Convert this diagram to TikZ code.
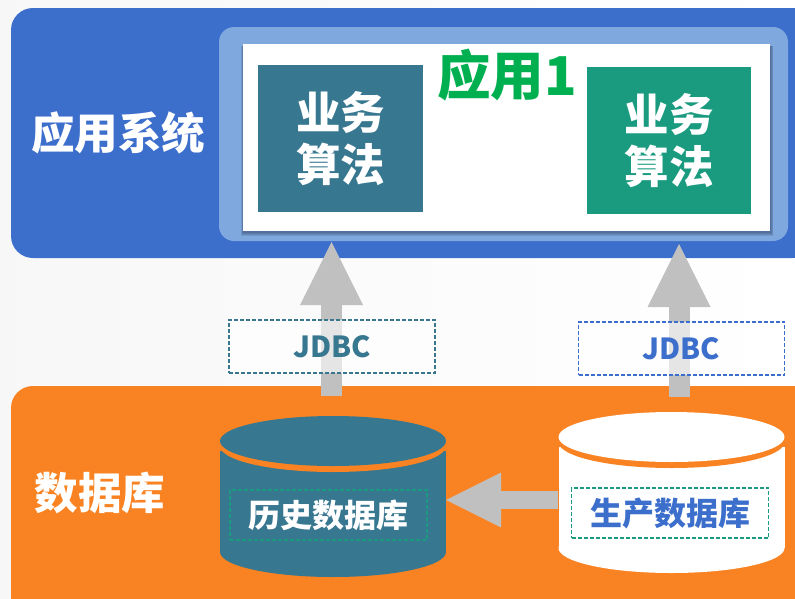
\documentclass[tikz,border=0pt]{standalone}
\usepackage{fontspec}
\setmainfont{Noto Sans CJK SC}
\usetikzlibrary{arrows.meta,calc}
\definecolor{sysblue}{HTML}{3C6ECC}
\definecolor{lightblue}{HTML}{7FA9DE}
\definecolor{dborange}{HTML}{F98322}
\definecolor{teal1}{HTML}{387790}
\definecolor{green1}{HTML}{1A9B80}
\definecolor{title1}{HTML}{00B050}
\definecolor{arrowgray}{HTML}{C0C0C0}
\definecolor{shadowc}{HTML}{203050}
\tikzset{
  x=1pt,y=-1pt,
  panel/.style={rounded corners=22pt,draw=none},
  algbox/.style={anchor=center,inner sep=0pt,minimum width=165pt,minimum height=147pt,text=white,font=\fontsize{44.5}{52}\selectfont\bfseries,align=center},
  paneltext/.style={text=white,font=\fontsize{43.5}{50}\selectfont\bfseries,inner sep=0pt},
  jdbcbox/.style={dashed,dash pattern=on 4pt off 2pt,line width=1.6pt,fill=white,fill opacity=.6,text opacity=1,minimum width=206pt,minimum height=53pt,inner sep=0pt,font=\fontsize{29}{32}\selectfont\bfseries},
  dbbox/.style={draw=green1,dash pattern=on 4pt off 2pt,line width=1.6pt,minimum width=197pt,minimum height=50pt,inner sep=0pt,font=\fontsize{32}{36}\selectfont\bfseries},
  bigarrow/.style={arrowgray,line width=21pt,-{Triangle[length=63pt,width=63pt,line width=0pt]}},
  sidearrow/.style={arrowgray,line width=18pt,-{Triangle[length=55pt,width=55pt,line width=0pt]}},
  cyl/.style={minimum width=226pt,minimum height=161pt,inner sep=0pt,draw=none},
  softshadow/.style={shadowc,opacity=.14},
}
\newcommand{\drumdraw}[3]{% center x, top-ellipse center y, colour
  \fill[#3] (#1-113,#2+10) rectangle (#1+113,#2+111);
  \fill[#3] (#1,#2+111) ellipse [x radius=113,y radius=25];
  \fill[dborange] (#1,#2+5) ellipse [x radius=113,y radius=26];
  \fill[#3] (#1,#2) ellipse [x radius=113,y radius=25];
}
\begin{document}
\begin{tikzpicture}
\useasboundingbox (0,0) rectangle (795,598);
\clip (0,0) rectangle (795,598);
\shade[left color=black!3,right color=white] (0,0) rectangle (795,598);
\fill[panel,sysblue] (11,8) rectangle (815,258);
\fill[panel,dborange] (11,386) rectangle (815,620);
\fill[lightblue,rounded corners=15pt] (219,27) rectangle (788,241);
\fill[softshadow] (241,46) rectangle (773,236);
\fill[softshadow] (241.5,46) rectangle (772.5,235);
\fill[softshadow] (242,46) rectangle (772,234);
\fill[softshadow] (242.5,46) rectangle (771,233);
\fill[white] (243,44) rectangle (770,231);
\node[algbox,fill=teal1] (alg1) at (340.5,138.5) {业务\\算法};
\node[algbox,fill=green1,minimum width=164pt] (alg2) at (669,140.5) {业务\\算法};
\node[text=title1,font=\fontsize{53.5}{60}\selectfont\bfseries,inner sep=0pt] (apptitle) at (507,75) {应用1};
\node[paneltext] (systitle) at (118,133) {应用系统};
\node[paneltext] (dbtitle) at (100,493) {数据库};
\coordinate (a1s) at (331.5,396);
\coordinate (a1e) at (331.5,242);
\coordinate (a2s) at (679,397);
\coordinate (a2e) at (679,244);
\draw[bigarrow] (a1s) -- (a1e);
\draw[bigarrow] (a2s) -- (a2e);
\node[jdbcbox,draw=teal1,text=teal1] (j1) at (332,346.5) {JDBC};
\node[jdbcbox,draw=sysblue,text=sysblue] (j2) at (681.5,348.5) {JDBC};
\drumdraw{333}{441}{teal1}
\drumdraw{671.5}{437}{white}
\node[cyl] (hist) at (333,496.5) {};
\node[cyl] (prod) at (671.5,492.5) {};
\draw[sidearrow] ($(prod.west)+(0,7.5)$) -- ($(hist.east)+(0,3.5)$);
\node[dbbox,text=white] (histlabel) at (328.5,515) {历史数据库};
\node[dbbox,text=sysblue] (prodlabel) at (670,513) {生产数据库};
\end{tikzpicture}
\end{document}
